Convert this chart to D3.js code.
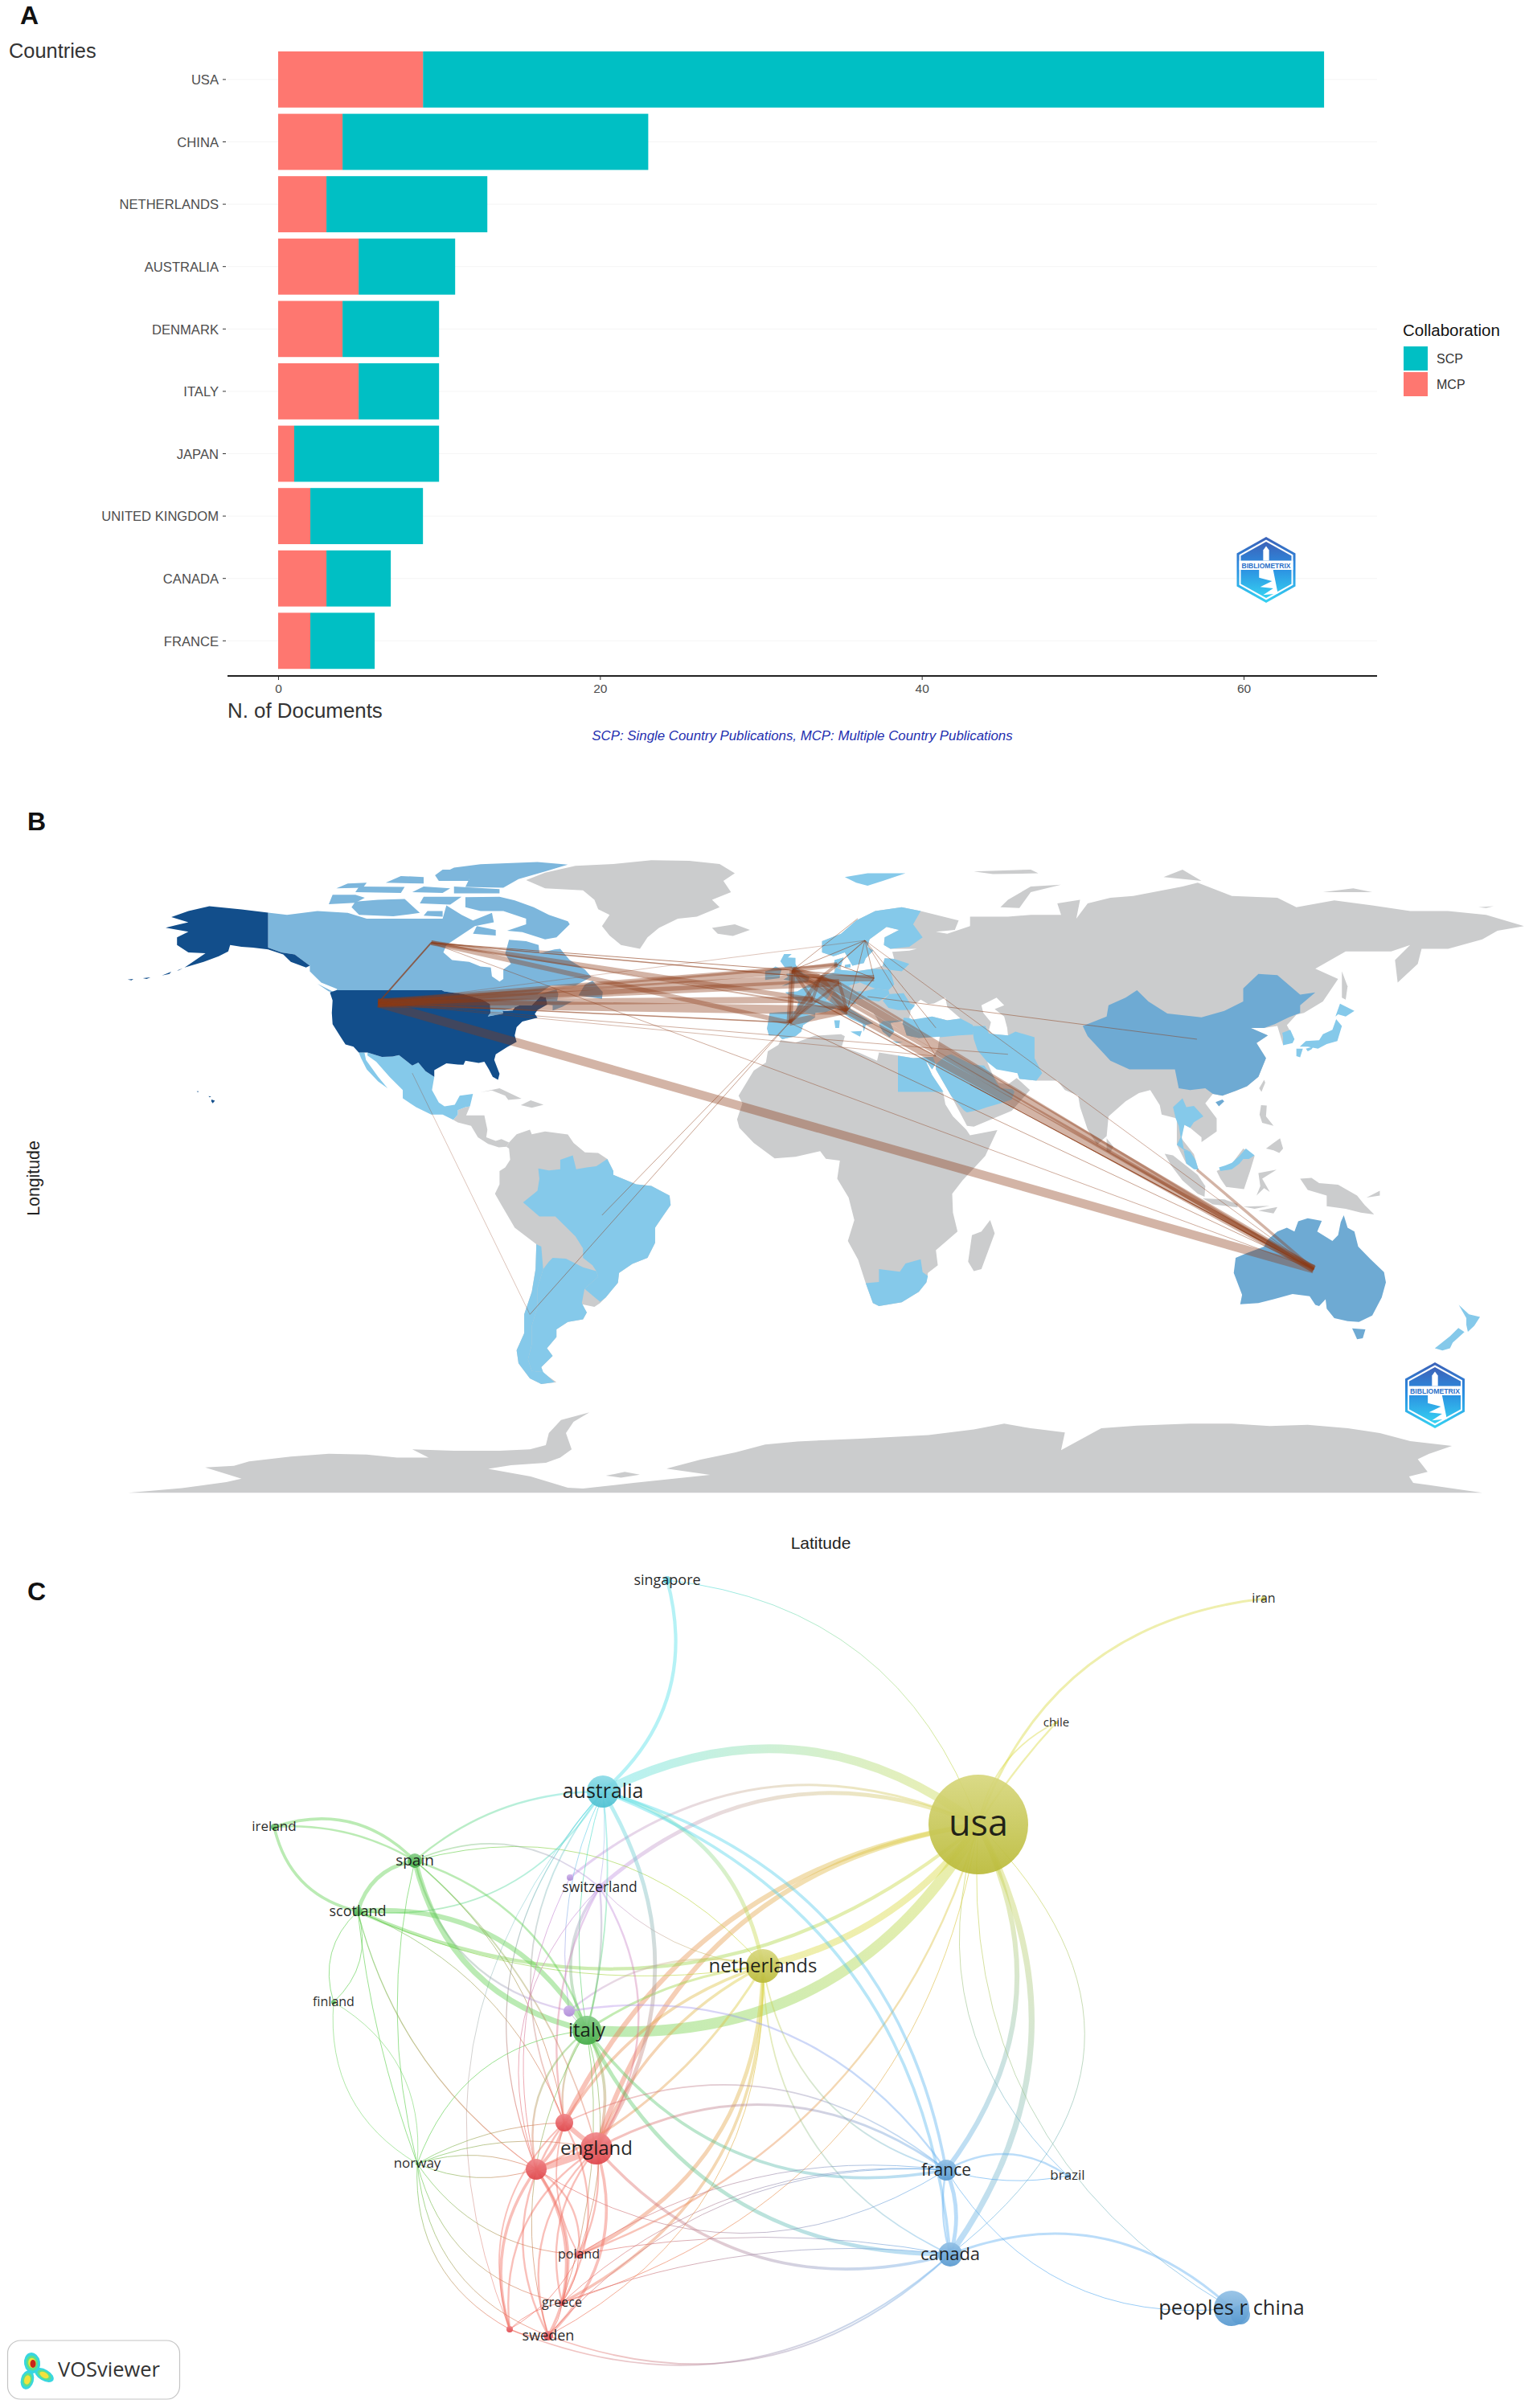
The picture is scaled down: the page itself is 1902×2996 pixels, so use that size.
<!DOCTYPE html>
<html><head><meta charset="utf-8">
<script src="https://cdn.jsdelivr.net/npm/d3@7"></script>
<style>html,body{margin:0;background:#fff}svg{display:block}</style>
</head><body><svg id="c" width="1902" height="2996"></svg>
<script>
// ---------- Panel A data ----------
const countries=["USA","CHINA","NETHERLANDS","AUSTRALIA","DENMARK","ITALY","JAPAN","UNITED KINGDOM","CANADA","FRANCE"];
const mcp=[9,4,3,5,4,5,1,2,3,2];
const scp=[56,19,10,6,6,5,9,7,4,4];
const xTicks=[0,20,40,60];
// ---------- Panel B outlines [lon,lat] ----------
const usaMain=[[-124.7,48.4],[-123,49],[-95.2,49],[-94.6,48.7],[-92,48.3],[-89.6,48],[-84.5,46.5],[-82.5,45.3],[-82.4,43],[-83.1,42],[-79,42.8],[-79.2,43.5],[-76.5,43.6],[-76,44.4],[-74.7,45],[-71.5,45],[-70.3,46.2],[-69.2,47.4],[-67.8,47.1],[-67.4,45.2],[-70,43.7],[-70.7,42.7],[-70,41.7],[-74,40.7],[-75.5,39.2],[-76,37],[-75.5,35.3],[-78,33.9],[-81,32],[-81.4,30.5],[-80,26.8],[-80.4,25.2],[-81.8,26],[-82.8,28],[-84,30],[-85.5,29.7],[-89,30.3],[-89.5,29.2],[-91,29.3],[-94,29.6],[-97.2,27.8],[-97.2,26],[-99.5,27.5],[-101.4,29.8],[-103,29],[-106.5,31.8],[-108.2,31.4],[-111,31.3],[-114.8,32.5],[-117.1,32.5],[-118.5,34],[-120.6,34.6],[-122,36.8],[-124,40],[-124.2,43],[-124,46.3]];
const alaska=[[-141,69.6],[-148,70.4],[-156.5,71.3],[-162,70],[-166.5,68.4],[-162,67],[-165,66.3],[-168,65.6],[-162,64.5],[-165,63],[-165,61],[-162,59],[-157.5,58.8],[-163,55],[-158,56.5],[-154,58],[-151.5,59.3],[-151,61],[-148,60.5],[-145,60.3],[-141,59.8],[-137,58.5],[-135,56.5],[-131,55],[-130,55.5],[-134,58.5],[-137.5,59],[-141,60.3]];
const aleutian1=[[-178,51.8],[-176.5,52],[-177,51.6]];
const aleutian2=[[-174,52.2],[-172,52.4],[-173,52]];
const aleutian3=[[-169,52.9],[-166.5,53.9],[-167,53.3]];
const aleutian4=[[-165,54.2],[-163.5,54.8],[-164.5,54.3]];
const hawaii=[[-155.9,20],[-155,19.7],[-155.6,19],[-156,19.6]];
const maui=[[-156.7,20.9],[-156,20.8],[-156.4,20.6]];
const kauai=[[-159.8,22.2],[-159.3,22.2],[-159.5,21.9]];
const canadaMain=[[-141,69.6],[-136,69],[-128,70],[-120,69.5],[-115,68],[-108,68],[-100,68],[-95,68],[-94,71.5],[-90,69],[-87,67.5],[-82,69.5],[-81.5,67],[-86.5,66],[-94,61],[-94.8,59],[-92.5,57],[-88,56.5],[-85,55.3],[-82.3,55],[-82,52.7],[-80,51.3],[-79,52],[-79,54.5],[-77,56],[-78.5,58.7],[-77.5,62.4],[-73,62],[-69.7,61],[-69.5,58.8],[-65.5,59.8],[-64,60],[-61.5,57],[-57.5,54.5],[-55.8,52.5],[-60,50.2],[-66.5,50.2],[-70,47.8],[-65,49.2],[-64.5,48],[-64.8,46.2],[-61,46],[-60,46.5],[-63.5,44.6],[-66,43.6],[-66,45],[-67.4,45.2],[-67.8,47.1],[-69.2,47.4],[-70.3,46.2],[-71.5,45],[-74.7,45],[-76,44.4],[-79.2,43.5],[-79,42.8],[-83.1,42],[-82.4,43],[-82.5,45.3],[-84.5,46.5],[-89.6,48],[-92,48.3],[-94.6,48.7],[-95.2,49],[-123,49],[-122.8,49.3],[-127,51],[-130,54],[-130,55.5],[-134,58.5],[-137.5,59],[-141,60.3]];
const baffin=[[-61.5,66.5],[-65,63],[-68,62.5],[-74,64.4],[-78,64.8],[-73,66.5],[-73,68],[-79,70],[-85,70],[-89,71],[-89,73.7],[-80,73.8],[-76,72.8],[-71,71],[-67,69],[-62,67.3]];
const victoria=[[-117,69],[-108,68.6],[-101,69.5],[-105,73.2],[-112,73],[-118,72.5],[-119,71]];
const banks=[[-125,71.8],[-118,72.2],[-115.5,73.5],[-118,74.3],[-124,74.3]];
const ellesmere=[[-89,76.4],[-79,76.2],[-75,78.5],[-68,80.5],[-62,82.3],[-70,83],[-85,82.4],[-92,81.5],[-95,80],[-88,78.5]];
const devon=[[-92,74.7],[-80,74.7],[-80,75.8],[-92,76.5]];
const axelHeiberg=[[-96,78],[-88,78],[-88,81],[-95,81],[-97,79.5]];
const melville=[[-118,75],[-106,74.8],[-105,76.4],[-117,76.5]];
const bathurst=[[-103,75],[-95,74.8],[-93,76],[-100,76.5]];
const princePatrick=[[-123,76],[-116,76.2],[-115,77.5],[-120,77.3]];
const ellefRingnes=[[-110,77.5],[-100,77.3],[-100,79],[-106,79.3]];
const somerset=[[-101,72],[-93,71.7],[-90,73.8],[-100,73.8]];
const kingWilliam=[[-100,68.8],[-95,68.5],[-95,70],[-99,70]];
const southampton=[[-87,64],[-81,63.5],[-81,65],[-86,66]];
const newfoundland=[[-59.2,47.6],[-53,46.7],[-52.8,48.5],[-55.5,51.5],[-57.5,50.5]];
const vancouverIsl=[[-128,50.7],[-123.5,48.4],[-125,48.7]];
const mexico=[[-114.8,32.5],[-111,31.3],[-108.2,31.4],[-106.5,31.8],[-103,29],[-101.4,29.8],[-99.5,27.5],[-97.2,26],[-97.8,22.5],[-96,19.2],[-94.5,18.2],[-91.8,18.6],[-90.5,21],[-87,21.5],[-87.8,18.2],[-89,18],[-91,17.2],[-91,16],[-92.2,14.6],[-95,16],[-98,16],[-102,18],[-105.5,20.3],[-105.5,22.5],[-109,26],[-112.5,30],[-114.8,31.7]];
const baja=[[-117.1,32.5],[-115.6,32.5],[-115.2,30.5],[-112,26],[-109.5,23],[-112,24.8],[-115,28],[-116.5,31]];
const centralAmerica=[[-92.2,14.6],[-91,16],[-91,17.2],[-89,18],[-87.8,18.2],[-88.8,15.8],[-84,15.8],[-83.2,12],[-83.5,10],[-81,9],[-79.5,9.5],[-77.5,8.6],[-78.2,7.5],[-80.2,7.3],[-83,8.2],[-85.7,10],[-87.5,13],[-91,13.9]];
const cuba=[[-85,21.9],[-80,23],[-74.2,20.2],[-77.7,19.9],[-78.5,21],[-82,22.4]];
const hispaniola=[[-74.4,18.5],[-71.8,19.8],[-68.4,18.6],[-71.5,17.8]];
const southAmerica=[[-77.5,8.6],[-75.5,10.8],[-72,12],[-71.5,10.8],[-68,11.5],[-62,10.7],[-60.5,8.5],[-57.5,6],[-54,5.8],[-51.6,4.2],[-50,1],[-50,0],[-44,-2.5],[-40,-2.9],[-35.2,-5.5],[-34.9,-8],[-37,-11],[-39,-14],[-39,-18],[-41,-22],[-45,-23.6],[-48.5,-26],[-48.8,-28.6],[-52,-32.5],[-53.5,-34],[-55,-35],[-58.3,-34.3],[-57,-36.5],[-58,-38.3],[-62,-39],[-65,-41],[-65,-43],[-67.5,-46],[-66,-48],[-69,-51],[-68.5,-52.5],[-65,-55],[-69,-55.5],[-72,-54],[-75,-50],[-75.5,-46.5],[-73.5,-42],[-73.5,-37],[-71.5,-31],[-70.5,-25],[-70.3,-18.4],[-76,-14],[-79.5,-8],[-81.2,-5],[-80,-2.5],[-80,1],[-78.5,2],[-77.2,4],[-77.5,7],[-78.2,7.5]];
const brazil=[[-51.6,4.2],[-50,1],[-50,0],[-44,-2.5],[-40,-2.9],[-35.2,-5.5],[-34.9,-8],[-37,-11],[-39,-14],[-39,-18],[-41,-22],[-45,-23.6],[-48.5,-26],[-48.8,-28.6],[-52,-32.5],[-53.5,-33.7],[-57.6,-30.2],[-54,-27],[-54.5,-25.5],[-55.5,-24],[-58,-22],[-58,-19.5],[-60,-16.3],[-65.3,-11],[-69.5,-11],[-73.8,-7.3],[-70,-4.2],[-69.5,-1],[-69.8,1.7],[-67,1.2],[-64,1.5],[-64,4],[-60.7,5.2],[-59.8,1.5],[-57,2],[-54.5,2.3]];
const argentina=[[-66,-22],[-62.5,-22.2],[-58,-24.5],[-54.5,-25.5],[-54,-27],[-57.6,-30.2],[-58.3,-34],[-57,-36.5],[-58,-38.3],[-62,-39],[-65,-41],[-65,-43],[-67.5,-46],[-66,-48],[-69,-51],[-68.5,-52.3],[-71.5,-52],[-72.5,-49],[-71.5,-45],[-71.5,-40],[-70,-35],[-70,-30],[-68.5,-25],[-67,-23]];
const chile=[[-70.3,-18.4],[-69,-19],[-68.5,-25],[-70,-30],[-70,-35],[-71.5,-40],[-71.5,-45],[-72.5,-49],[-71.5,-52],[-68.5,-52.3],[-65.5,-55],[-69,-55.5],[-72,-54],[-75,-50],[-75.5,-46.5],[-73.5,-42],[-73.5,-37],[-71.5,-31],[-70.5,-25]];
const greenland=[[-73,78.2],[-68,80.2],[-60,82],[-50,82.5],[-40,83.5],[-30,83.3],[-22,82.5],[-18,80],[-21,78],[-19,75],[-24,73],[-22,71],[-28,68.5],[-33,68],[-38,65.5],[-41,63],[-43,60],[-48,61],[-51,63.5],[-53,66],[-51,69],[-54,70.5],[-55,73],[-58,75.5],[-68,76]];
const iceland=[[-24,65.5],[-18,66.5],[-14,65],[-18.5,63.4],[-22.5,64]];
const svalbard=[[11,79],[17,80],[27,80],[21,78],[17,76.7],[14,77.5]];
const novayaZemlya=[[52,71],[57,70.8],[60,75],[68,77],[60,76.5],[54,73]];
const franzJosef=[[45,80.5],[60,81],[62,80],[50,79.8]];
const severnaya=[[95,79],[105,78],[100,81]];
const newSiberian=[[137,75],[150,75],[145,76]];
const wrangel=[[178,71],[182,71.3],[180,70.8]];
const eurasia=[[5,59],[5,62],[10,64],[14,67.5],[19,70],[26,71],[31,70],[41,67.5],[40,65],[35,64.5],[38,64],[44,66],[44,68.5],[54,68.5],[60,69],[68,69],[67,72],[73,73],[72,68],[75,72],[81,73.5],[87,74],[100,76.5],[104,77.5],[113,74],[125,73.5],[130,71],[140,72.8],[150,71.5],[160,70],[170,70],[180,69],[190,66],[183,64.8],[179,62.5],[170,60],[163,60],[162,56],[156.7,51],[156,57],[160,61],[155,59.3],[143,59.3],[135,54.7],[141,52],[137,46],[132,43],[130,42.5],[127.5,39.7],[129.5,36],[126.5,34.5],[125,39.5],[121.5,39],[118,39],[122.5,37],[119.5,35],[122,31],[120,26],[117,23.5],[114,22.3],[110.5,21],[108,21.5],[106,19],[109,15],[109,11.5],[105,8.7],[105,10],[102,12.5],[100.5,13.3],[99.5,10],[103,5.5],[104.2,1.4],[101,3],[98.5,8],[98.5,15],[94.5,16],[94,18.5],[91.5,22.5],[88.5,21.7],[85,19.5],[80.5,15.5],[80,10.3],[77.5,8],[75,12],[73,18],[72.5,21],[69,22.5],[67,25],[61.5,25],[57,25.5],[56.5,27],[51,28.5],[48.5,30],[50.2,26],[51.5,24.5],[54,24],[56.3,25.7],[59.8,22.5],[55,17],[45,12.8],[43.2,13],[39,21],[35,28],[35,29.5],[34,28],[32.6,30],[32.3,31.2],[34.2,31.3],[35.5,33.5],[36,36.7],[30.5,36.3],[27.3,37],[26.5,39.5],[29,41],[34,42],[38,41],[41.5,41.5],[38,44.5],[37.5,47],[34.5,45.5],[33,45.3],[31,46.5],[28.5,44.5],[28,41.5],[26,40.8],[23,40.3],[24,38],[22.8,36.5],[21,38],[19.5,41.5],[18.5,43],[14,45.3],[12.3,45.3],[12.5,44],[16,41.8],[18.5,40.2],[16.5,39.8],[16,38],[15.7,40],[12.5,41.5],[10.5,43],[8.8,44.3],[6,43.2],[3.2,43],[3.2,41.8],[0,39.7],[-0.5,38],[-2,36.8],[-5.5,36],[-6.5,37],[-9,37],[-9.5,38.8],[-8.8,43],[-2,43.4],[-1.2,46],[-4.7,48.4],[-1.5,48.7],[1.5,50.5],[3.5,51.4],[4.8,53],[8.2,53.7],[8.3,57],[10.7,57.7],[10,55.5],[10,54.4],[14,54],[18.5,54.7],[21,55.5],[21.5,57.5],[24,57.3],[23.5,59.2],[28,59.5],[30,60],[23,60],[21.3,61],[21.5,63],[25.3,65],[22,65.8],[17.5,62.5],[17,60.5],[18.5,59.5],[16.5,57.5],[16,56.2],[13,55.5],[11,59],[8,58]];
const caspianSea=[[47,45],[51,47],[53,45],[50.5,44],[53,42],[53.8,39],[54,37],[50,37.3],[49,38.5],[49.5,40.5],[47.5,43]];
const sakhalin=[[142,54],[143.5,50],[143,46.5],[142,47],[142,52]];
const honshu=[[130.9,34],[132.5,35.5],[136,35.7],[137,37.3],[139.5,38.5],[140.5,41.3],[142,39.5],[140.8,35.5],[138,34.7],[135.7,33.5],[133,34]];
const kyushu=[[130,33.5],[131.7,33.5],[131,31.2],[130,31.5]];
const shikoku=[[132.5,33.5],[134.5,34],[134,33.3],[133,32.8]];
const hokkaido=[[140.3,42],[141.5,45.4],[145.3,43.5],[143,42],[141,42.6]];
const southKorea=[[126.3,37.7],[128.4,38.5],[129.5,36],[129,35],[126.5,34.4],[126.5,36.5]];
const taiwan=[[120.2,23],[121.5,25.2],[121.8,24.5],[120.8,22]];
const hainan=[[108.7,19.3],[110.5,20],[111,19.5],[109.6,18.2]];
const luzon=[[120.3,16],[120.7,18.5],[122.2,18.4],[122,15.5],[124,13],[121,13.8]];
const mindanao=[[122,7],[124,8.5],[125.7,9.7],[126.5,7],[125.5,5.8],[124,6.5]];
const sriLanka=[[80,9.7],[81.8,7.5],[81,6],[80,6.2]];
const sumatra=[[95.3,5.6],[97.5,5.2],[104,0],[106,-3],[105.8,-5.8],[104,-5],[100,-1.5],[97,2.5]];
const java=[[105.3,-6.2],[111,-6.5],[114.5,-7.7],[114.5,-8.6],[108,-7.8]];
const borneo=[[109,1],[113,3],[116,7],[119,5],[117.8,1],[116.2,-3.8],[111.5,-3.2],[110,-1]];
const eastMalaysia=[[110,1],[113,1.5],[115,3],[116,4.2],[117.5,4.2],[119,5.2],[116.7,7],[115,5],[113,3.2],[111.3,2.5],[109.6,2]];
const sulawesi=[[119.5,-5.5],[120.5,-3],[120,0.5],[124.8,1.4],[121,-1],[123,-4.5],[121.5,-3.5]];
const newGuinea=[[131,-1],[134,-0.8],[136,-2.2],[141,-2.6],[146,-5.5],[148,-8],[150.5,-10.5],[147,-10],[143,-9],[138,-8.3],[138,-5.5],[133,-4]];
const newBritain=[[148.5,-6],[152,-4.2],[152,-5.5]];
const timor=[[120,-9.5],[125,-8.5],[124,-10.2]];
const sunda=[[116,-8.4],[123,-8.2],[119,-9]];
const madagascar=[[49.3,-12],[50.5,-15.5],[47,-25],[45,-25.5],[43.5,-23],[44.5,-16],[47,-15]];
const australia=[[142.5,-10.7],[143.5,-14],[145.3,-15],[146.3,-19],[149.5,-22.3],[153.1,-25.8],[153.6,-28.5],[152.5,-32.5],[150,-37.3],[146.5,-39],[143.5,-38.8],[140,-38],[138,-35.5],[137.7,-33],[136,-34.8],[135,-34.5],[133.5,-32.2],[129,-31.6],[124,-33],[120,-34],[115.2,-34.3],[115.7,-31.8],[113.5,-26],[114,-22],[117,-20.7],[121.5,-19],[122.3,-17.3],[125,-15],[127.5,-14],[129.5,-15],[130.5,-12.3],[133,-11.5],[136.7,-12.2],[135.5,-15],[139.5,-17.5],[141,-16],[141.7,-12.5]];
const tasmania=[[144.7,-40.7],[148.2,-41],[147.5,-43.3],[146,-43.6],[145.3,-42]];
const nzNorth=[[172.8,-34.5],[175.5,-37],[178.4,-37.7],[176.9,-40],[175.2,-41.6],[174.8,-39.8],[174.8,-38]];
const nzSouth=[[172.7,-40.6],[174.3,-41.7],[171.2,-44.5],[170.5,-46],[168.5,-46.6],[166.5,-46],[170.5,-42.8]];
const africa=[[-5.9,35.8],[-2,35.1],[3,36.9],[10,37.3],[11,36.8],[10.2,34],[15,32.3],[19.5,30.3],[20,32.5],[25,31.7],[29,31],[32.3,31.2],[32.6,30],[32.5,29.8],[34,26.5],[37,21.5],[37.5,18.7],[39.5,15.5],[43,12],[44,10.5],[51.2,11.9],[48,5],[42,-1.5],[39.3,-5],[39.5,-10],[40.7,-15],[35,-20],[35.5,-24],[32.9,-26],[32.5,-28.5],[30.5,-31],[26,-33.8],[20,-34.8],[18.4,-34],[16.5,-28.7],[14.5,-22.5],[11.8,-17.5],[13.5,-12],[12,-6],[9,-1],[9.7,3.8],[6,4.3],[4.5,6.3],[-2,4.8],[-7.5,4.4],[-13,8.5],[-16.8,12.5],[-17.4,14.7],[-16,19],[-17,21],[-13,27.7],[-9.8,29.8],[-9.3,32.8],[-6.5,34.5]];
const egypt=[[25,31.6],[29,31],[32.3,31.2],[34.2,31.3],[34.9,29.5],[34,28],[32.6,30],[32.5,29.8],[34,26.5],[37,22],[25,22]];
const saudiArabia=[[35,29.4],[37.5,31.5],[39,32],[44.7,29.2],[47.7,29],[48.5,28],[50,26.5],[51,24.5],[52,23],[55.2,22.7],[55.7,22],[55,20],[52,19],[48.5,18],[46.5,17.3],[43.2,16.6],[42.5,17],[39,21],[35,28]];
const iran=[[44.5,39.5],[48,39.5],[49,37.5],[54,37],[56,38],[61,36.5],[61,31],[63,27],[61.5,25],[57,25.5],[56.5,27],[51,28],[48.5,30],[46,33],[45,36]];
const turkey=[[26.2,40],[26.5,41.7],[28,41.6],[29,41.2],[34,42],[38,41],[41.5,41.5],[44.7,39.8],[44.8,37.2],[41,37],[36.2,36.5],[36,36.7],[30.5,36.3],[27.3,37],[26.5,39.5]];
const china=[[73.7,39.5],[80,42],[80.5,45],[85,47],[88,49],[91,46],[96,42.8],[105,41.8],[111,43.5],[116,46],[116,49.5],[120,53.3],[125,53],[131,47.8],[135,48.4],[131,45],[131,43],[128,41.8],[124.3,40],[121.5,39],[118,39],[122.5,37],[119.5,35],[122,31],[120,26],[117,23.5],[114,22.3],[110.5,21],[108,21.5],[106,23],[102,22.5],[99,23],[98,28],[92,28],[86,28],[81,30.3],[78.5,33],[75,36.8]];
const thailand=[[98.5,8],[99.5,10],[99,13],[98.2,15],[97.5,18],[100,20.3],[101,18],[103,18.3],[105.5,15.5],[103,14],[102,12.5],[100.5,13.3],[99.8,10],[100.3,7],[102,6.2],[100.5,6.5]];
const westMalaysia=[[100.3,6.5],[102,6.2],[103.4,4],[104.2,1.4],[103,1.5],[101,3]];
const southAfrica=[[16.5,-28.7],[18.4,-34],[20,-34.8],[26,-33.8],[30.5,-31],[32.5,-28.5],[32.9,-26.8],[31.5,-25.8],[31,-22.4],[27,-23.5],[25.5,-25.7],[20,-25],[20,-28.4]];
const iberia=[[-9,37],[-6.5,37],[-5.5,36],[-2,36.8],[-0.5,38],[0,39.7],[3.2,41.8],[1.5,42.5],[-2,43.4],[-8.8,43],[-9.5,38.8]];
const france=[[-1.8,43.4],[3.2,42.5],[3.2,43],[6,43.2],[7.5,43.8],[7,46],[6,46.3],[8,49],[4,50],[1.5,50.5],[-1.5,48.7],[-4.7,48.4],[-1.2,46]];
const benelux=[[2.5,51],[3.5,51.4],[4.8,53],[7,53.4],[6,51],[6,49.6],[4,50]];
const germany=[[7,53.4],[8.2,53.7],[8.7,55],[10,54.4],[14,54],[15,51],[12,50.2],[13.8,48.7],[10,47.4],[7.6,47.6],[8,49],[6,49.6],[6,51]];
const denmark=[[8.1,55.5],[8.3,57],[10.7,57.7],[10,55.5],[9.5,54.9]];
const zealand=[[11,55.7],[12.5,56],[12.5,55],[11,55]];
const scandinavia=[[5,59],[5,62],[10,64],[14,67.5],[19,70],[26,71],[31,70],[29,66.5],[31.5,63],[28,60.5],[23,60],[21.3,61],[21.5,63],[25.3,65],[22,65.8],[17.5,62.5],[17,60.5],[18.5,59.5],[16.5,57.5],[16,56.2],[13,55.5],[11,59],[8,58]];
const poland=[[14,54],[18.5,54.7],[23,54.4],[24,50.5],[22.5,49],[19,49.4],[15,51]];
const baltics=[[21,55.5],[21.5,57.5],[24,57.3],[28,56],[26,54],[23,54.4]];
const hungary=[[22.5,49],[19,49.4],[16,48.7],[16.5,46.5],[20,46],[22.8,48]];
const austriaSwiss=[[7,46],[7.6,47.6],[10,47.4],[13.8,48.7],[16,48.7],[16.5,46.8],[13.5,46.5],[10,46.5]];
const italy=[[7,46],[10,46.5],[13.5,46.5],[14,45.5],[12.3,45.3],[12.5,44],[16,41.8],[18.5,40.2],[16.5,39.8],[16,38],[15.7,40],[12.5,41.5],[10.5,43],[8.8,44.3],[7.5,43.8]];
const sicily=[[12.5,38],[15.5,38.2],[15,36.7]];
const sardinia=[[8.2,41],[9.7,41],[9.5,39],[8.5,39]];
const crete=[[23.5,35.5],[26.3,35.2],[24.7,35]];
const greece=[[20,39.7],[21,40.8],[26,41],[26,40.8],[23,40.3],[24,38],[22.8,36.5],[21,38]];
const romania=[[21,46.2],[22.8,48],[26.5,48.2],[28.2,45.5],[29.5,45],[28.5,43.8],[25,43.7],[22.5,44.3]];
const britain=[[-5.7,50],[-3,50.7],[1.3,51.2],[1.7,52.7],[0,53.5],[-1.5,55],[-2,56],[-2,57.6],[-4,57.7],[-3,58.6],[-5,58.6],[-6,56.7],[-4.8,55],[-3,54.9],[-3,53.5],[-4.5,53.3],[-4,52.5],[-5.2,51.8],[-3,51.4]];
const ireland=[[-10,51.7],[-6.2,52.2],[-6,53.5],[-5.6,54.6],[-7.3,55.3],[-8.5,54.5],[-10,54]];
const antarctica=[[-177.8,-84.3],[-163.7,-83.1],[-152,-81.5],[-148,-80.6],[-157.6,-77.6],[-150,-77.2],[-146,-76],[-135,-74.7],[-125,-74],[-115,-74.2],[-107,-75],[-98.7,-75],[-103,-72.8],[-92,-73.2],[-80,-73.2],[-72,-72.8],[-67.8,-71.7],[-67,-68.5],[-63.8,-65],[-56.3,-63],[-60.5,-65.5],[-62.5,-68.5],[-61,-72.8],[-64,-75],[-67.8,-76.4],[-77,-77],[-83,-78],[-71.8,-80],[-62,-83],[-58,-83.2],[-44.7,-81.7],[-24.5,-79.6],[-36,-77.9],[-27,-75.5],[-17.8,-73.6],[-10,-71.5],[-1.5,-70.7],[15,-70],[33,-69],[45,-67.5],[53,-66],[60,-67.2],[69,-68.3],[68,-73],[78.6,-67.2],[88,-66.5],[102,-66],[113,-66],[123,-66.6],[133,-66.3],[143.6,-67.2],[152,-68.5],[160,-70.6],[171,-71.9],[165,-74],[162,-75.4],[164.6,-78.8],[159.7,-80],[160.8,-81.7],[179,-84.3]];
const berkner=[[-52,-79.8],[-47,-78.8],[-43,-79.5],[-48,-80.3]];
// map fills by group
const grayLand=[eurasia,africa,southAmerica,centralAmerica,greenland,iceland,novayaZemlya,franzJosef,severnaya,newSiberian,wrangel,sakhalin,taiwan,luzon,mindanao,sriLanka,sumatra,java,borneo,sulawesi,newGuinea,newBritain,timor,sunda,madagascar,cuba,hispaniola,antarctica,berkner];
const lightLand=[mexico,baja,brazil,argentina,chile,svalbard,honshu,kyushu,shikoku,hokkaido,southKorea,eastMalaysia,thailand,westMalaysia,southAfrica,egypt,saudiArabia,iran,turkey,nzNorth,nzSouth,iberia,france,benelux,germany,denmark,zealand,scandinavia,poland,baltics,hungary,austriaSwiss,italy,sicily,sardinia,crete,greece,romania,britain,ireland];
const midLand=[australia,tasmania,china,hainan];
const canadaLand=[canadaMain,baffin,victoria,banks,ellesmere,devon,axelHeiberg,melville,bathurst,princePatrick,ellefRingnes,somerset,kingWilliam,southampton,newfoundland,vancouverIsl];
const darkLand=[usaMain,alaska,aleutian1,aleutian2,aleutian3,aleutian4,hawaii,maui,kauai];
// collaboration centres
const geoNodes={USA:[-112,45.6],CAN:[-98,61.6],AUS:[134.6,-25],GBR:[-2.8,54.3],NLD:[4.4,52.2],DEU:[9.5,51],DNK:[9,55.8],POL:[18.7,52.2],SWE:[16.3,62.2],NOR:[14.4,68],ITA:[11.6,43.6],ESP:[-3.6,40.4],FRA:[2.5,46.5],HUN:[17,47.3],CHN:[103.8,36],IRN:[54,32],BRA:[-53,-10.7],CHL:[-72,-37],ARG:[-66,-40],MEX:[-103,27],SGP:[103.8,1.4],ISR:[35,31.5],TUR:[35,39],SAU:[44,24]};
const geoLinks=[["USA","AUS",11],["USA","GBR",10],["USA","NLD",11],["USA","DEU",9],["USA","FRA",8],["USA","ITA",11],["USA","DNK",3],["USA","ESP",1.5],["USA","CAN",2],["USA","CAN",1.5],["USA","IRN",.7],["USA","SWE",.5],["USA","ISR",.6],
["CAN","ESP",6],["CAN","FRA",6],["CAN","GBR",1],["CAN","NLD",1.5],["CAN","ITA",2],["CAN","AUS",.7],
["AUS","GBR",5],["AUS","NLD",9],["AUS","ITA",9],["AUS","DEU",3],["AUS","FRA",1.2],["AUS","ESP",.8],["AUS","SWE",.7],["AUS","SGP",3.5],["AUS","SAU",1],
["GBR","NLD",9],["GBR","DNK",6],["GBR","ITA",7],["GBR","ESP",7],["GBR","FRA",4],["GBR","DEU",4],["GBR","POL",2],["GBR","SWE",.9],["GBR","NOR",.8],["NLD","POL",8],["NLD","ITA",8],["NLD","ESP",5],["NLD","FRA",4],["NLD","DNK",4],["NLD","DEU",3],["ITA","ESP",8],["ITA","FRA",5],["ITA","DEU",4],["ESP","FRA",4],["ESP","DEU",3],["DNK","SWE",1.2],["DNK","POL",1],["SWE","ITA",.8],["SWE","POL",.8],["POL","ITA",1.2],["SWE","TUR",.8],["SWE","ISR",.7],["HUN","CHN",.8],["ESP","BRA",.8],["ESP","CHL",.8],["MEX","CHL",.5],["GBR","ESP",2],["ITA","ISR",.8]];
// ---------- Panel C data ----------
const netNodes=[["usa",1217,2270,62,"yellow",45,"usa"],["netherlands",949,2446,21,"yellow",24,"netherlands"],["australia",750,2229,20,"cyan",25,"australia"],["italy",730,2526,18,"green",24,"italy"],["england",742,2673,20,"red",24,"england"],["r1",702,2641,11,"red",0,""],["r2",667,2699,13,"red",0,""],["spain",516,2315,9,"green",19,"spain"],["scotland",445,2378,6,"green",18,"scotland"],["ireland",341,2273,4,"green",17,"ireland"],["finland",415,2491,3,"green",16,"finland"],["norway",519,2692,2,"green",17,"norway"],["switzerland",746,2348,5,"purple",17.5,"switzerland"],["p2",709,2336,4,"purple",0,""],["p3",708,2502,7,"purple",0,""],["poland",720,2805,5,"red",16,"poland"],["greece",699,2865,4,"red",16,"greece"],["sweden",682,2906,6,"red",18,"sweden"],["r3",634,2898,4,"red",0,""],["france",1177,2700,13,"blue",21,"france"],["canada",1182,2805,15,"blue",22,"canada"],["brazil",1328,2707,3,"blue",17,"brazil"],["china2",1543,2880,12,"blue",0,""],["china",1532,2872,22,"blue",25.5,"peoples r china"],["chile",1314,2143,2,"yellow",15,"chile"],["iran",1572,1989,3,"yellow",16,"iran"],["singapore",830,1966,5,"cyan",18,"singapore"]];
const clusterColors={yellow:"#c2c23a",cyan:"#4fc8da",green:"#45b148",red:"#e8474c",purple:"#b48ddf",blue:"#5a9fd8"};
const linkColors={yellow:"#d8d83c",cyan:"#4fdfe8",green:"#5ccf4c",red:"#f0685a",purple:"#c090e8",blue:"#5cadf0"};
// [from,to,weight,side]  side>0 bends towards the left when walking from -> to
const netLinks=[["australia","usa",9,1],["italy","usa",11,-1],["netherlands","usa",7,-.6],["england","usa",5,1],["r1","usa",5,.85],["switzerland","usa",4,1],["p2","usa",2.5,1],["usa","france",5,1],["usa","canada",6,1],["usa","canada",1,1.8],["usa","china",1,-1],["usa","brazil",1,-1],["usa","iran",2.5,1],["usa","chile",2,.15],["usa","chile",1.5,.8],["singapore","usa",1,1],["australia","singapore",3.5,-1],["scotland","usa",3.5,-1],["spain","netherlands",1,1],["poland","usa",2,-.8],["greece","usa",1,-1],
["england","netherlands",3,.6],["r1","netherlands",3,.6],["r2","netherlands",2.5,-.5],["poland","netherlands",4,-1],["greece","netherlands",3,-1],["italy","netherlands",2.5,.4],["sweden","netherlands",1,-1],["netherlands","france",1.5,-1],["netherlands","canada",1.5,-1],["switzerland","netherlands",1,-.6],["p3","netherlands",2,.8],["scotland","netherlands",1,-.5],["australia","netherlands",4,1],
["australia","france",3,1],["australia","canada",3,1],["australia","england",4,1],["australia","r1",1.5,-1],["australia","r2",1.2,-1],["australia","italy",1.5,.3],["australia","italy",1,-.4],["australia","p3",1,-.5],["australia","switzerland",.8,.2],["australia","r3",.8,-1],["spain","australia",2,.6],["scotland","australia",1.5,-1],
["spain","italy",6,-1],["scotland","italy",5,1],["spain","italy",2,.8],["spain","england",1.5,.5],["spain","r1",1,.6],["scotland","spain",4,1],["ireland","spain",3,1],["ireland","spain",2,.5],["ireland","scotland",3,-1],["spain","p3",2,-1],["spain","switzerland",1.5,1],["spain","norway",1,-.4],["scotland","finland",1,-1],["scotland","finland",1,1],["scotland","norway",1,-.2],["scotland","r2",1.2,-.6],["scotland","r1",1,.7],["finland","norway",.8,1],["finland","norway",.8,-1],
["norway","r2",1,.6],["norway","r2",1,-.6],["norway","england",1,.5],["norway","r1",1,.4],["norway","italy",1,1],["norway","r3",1,-1],["norway","sweden",1,-1],["norway","greece",1,-1],["norway","poland",1,-.8],
["switzerland","italy",3,-1],["switzerland","italy",2,.3],["switzerland","england",2,1],["switzerland","r1",2,-.6],["switzerland","r2",1,-1],["p2","r2",1,-.6],["p3","france",2,1],["italy","p3",1,.3],
["italy","england",3,.7],["italy","r1",2,-.7],["italy","r2",2,-1],["italy","france",3,-1],["italy","canada",4,-1],["italy","greece",1,.4],["italy","poland",1,.5],["italy","sweden",1,-.7],
["england","r1",5,.1],["england","r2",7,.1],["r1","r2",3,.5],["england","poland",2,.5],["england","greece",2,-.8],["england","sweden",3,1],["england","sweden",2,-1],["england","r3",2,-1],["r2","r3",3,-.8],["r2","sweden",2.5,1],["r2","greece",3,.7],["r2","poland",2,1],["r1","sweden",2,-1],["r1","greece",2,.9],["r1","r3",1.5,-1],["r1","poland",1.5,-.7],["poland","greece",1,.5],["greece","sweden",1,.5],["r3","sweden",1,-.5],["r3","greece",1,.5],["r3","poland",1,-.5],
["england","france",2.5,1],["england","canada",3,-1],["r1","france",1.5,1],["r2","france",1,-1],["poland","france",1,.6],["poland","canada",1,.3],["greece","france",1,.7],["greece","canada",1,.4],["sweden","france",1,.8],["sweden","canada",1.5,-1],["r3","canada",1.5,-1],["france","canada",4,.6],["france","canada",2,-.4],["france","brazil",2,1],["france","brazil",1,-.4],["canada","china",2.5,1],["france","china",1,-1]];
const bendFactor=0.31;

// ---------- helpers ----------
const svg=d3.select("#c");
const defs=svg.append("defs");
const SANS="'Liberation Sans',Arial,sans-serif";
function txt(x,y,s,size,opt={}){return svg.append("text").attr("x",x).attr("y",y).attr("font-family",opt.family||SANS).attr("font-size",size).attr("fill",opt.fill||"#222").attr("text-anchor",opt.anchor||"start").attr("font-weight",opt.weight||null).attr("font-style",opt.style||null).text(s);}
["A","B","C"].forEach((l,i)=>txt(i?34:25,[30,1033,1991][i],l,32,{weight:"bold",fill:"#111"}));

// ---------- Panel A ----------
const xA=d3.scaleLinear().domain([0,60]).range([346,1547]);
const yA=d3.scaleBand().domain(countries).range([60.1,836.1]).paddingInner(.1).paddingOuter(.05);
const gA=svg.append("g");
gA.selectAll("line.grid").data(countries).join("line").attr("x1",283).attr("x2",1713).attr("y1",d=>yA(d)+yA.bandwidth()/2).attr("y2",d=>yA(d)+yA.bandwidth()/2).attr("stroke","#f5f5f5");
gA.selectAll("rect.scp").data(countries).join("rect").attr("x",(d,i)=>xA(mcp[i])).attr("y",d=>yA(d)).attr("height",yA.bandwidth()).attr("width",(d,i)=>xA(scp[i])-xA(0)).attr("fill","#00BFC4");
gA.selectAll("rect.mcp").data(countries).join("rect").attr("class","mcp").attr("x",xA(0)).attr("y",d=>yA(d)).attr("height",yA.bandwidth()).attr("width",(d,i)=>xA(mcp[i])-xA(0)).attr("fill","#FE7770");
const axY=gA.append("g").attr("transform","translate(281,0)").call(d3.axisLeft(yA).tickSize(4).tickPadding(5));
axY.select(".domain").remove();axY.selectAll("text").attr("font-family",SANS).attr("font-size",16.6).attr("fill","#4d4d4d").attr("y",1);axY.selectAll("line").attr("stroke","#333");
const axX=gA.append("g").attr("transform","translate(0,841)").call(d3.axisBottom(xA).tickValues(xTicks).tickSize(5).tickPadding(5));
axX.select(".domain").remove();
gA.append("line").attr("x1",283).attr("x2",1713).attr("y1",841).attr("y2",841).attr("stroke","#222").attr("stroke-width",2);
axX.selectAll("text").attr("font-family",SANS).attr("font-size",15.5).attr("fill","#4d4d4d");axX.selectAll("line").attr("stroke","#333");
txt(11,72,"Countries",25.4,{fill:"#333"});
txt(283,893,"N. of Documents",25.9,{fill:"#333"});
txt(998,921,"SCP: Single Country Publications, MCP: Multiple Country Publications",16.85,{anchor:"middle",style:"italic",fill:"#1f2fb0"});
txt(1745,418,"Collaboration",20.5,{fill:"#111"});
[["SCP","#00BFC4",431],["MCP","#FE7770",463]].forEach(([n,c,y])=>{svg.append("rect").attr("x",1746).attr("y",y).attr("width",30).attr("height",30).attr("fill",c);txt(1787,y+21,n,16,{fill:"#333"});});

// bibliometrix badge
function badge(cx,cy,w,h,id){
 const g=svg.append("g").attr("transform",`translate(${cx},${cy})`);
 const lg=defs.append("linearGradient").attr("id",id).attr("x1",0).attr("y1",0).attr("x2",0).attr("y2",1);
 lg.append("stop").attr("offset",0).attr("stop-color","#3c62b8");lg.append("stop").attr("offset",.45).attr("stop-color","#2b8ce0");lg.append("stop").attr("offset",1).attr("stop-color","#36d2f2");
 const hex=(a,b)=>[[0,-b],[a,-b/2],[a,b/2],[0,b],[-a,b/2],[-a,-b/2]].map(p=>p.join(",")).join(" ");
 g.append("polygon").attr("points",hex(w/2,h/2)).attr("fill",`url(#${id})`);
 g.append("polygon").attr("points",hex(w/2-3,h/2-3.5)).attr("fill","#fff");
 g.append("polygon").attr("points",hex(w/2-5,h/2-6)).attr("fill",`url(#${id})`);
 g.append("rect").attr("x",-w/2+3).attr("y",-h*.14).attr("width",w-6).attr("height",h*.14).attr("fill","#fff");
 g.append("text").attr("y",-h*.025).attr("text-anchor","middle").attr("font-family",SANS).attr("font-weight","bold").attr("font-size",w*.125).attr("fill","#2a6fc8").attr("textLength",w-12).attr("lengthAdjust","spacingAndGlyphs").text("BIBLIOMETRIX");
 g.append("polygon").attr("points",[[-w*.05,-h*.3],[0,-h*.36],[w*.05,-h*.3],[w*.05,-h*.14],[-w*.05,-h*.14]].map(p=>p.join(",")).join(" ")).attr("fill","#fff");
 g.append("polygon").attr("points",[[-w*.12,0],[w*.12,0],[w*.2,h*.36],[-w*.05,h*.38],[w*.12,h*.28],[-w*.1,h*.26],[w*.1,h*.17],[-w*.12,h*.12]].map(p=>p.join(",")).join(" ")).attr("fill","#fff");
}
badge(1575,709,73,82,"bm1");

// ---------- Panel B ----------
const lonS=d3.scaleLinear().domain([-180,180]).range([999-849.6,999+849.6]);
const latS=d3.scaleLinear().domain([-90,90]).range([1461.8+422.1,1461.8-422.1]);
const geoPath=d3.geoPath(d3.geoTransform({point(x,y){this.stream.point(lonS(x),latS(y));}}));
const poly=r=>({type:"Polygon",coordinates:[[...r,r[0]]]});
const gB=svg.append("g");
function land(list,fill){gB.append("g").selectAll("path").data(list).join("path").attr("d",r=>geoPath(poly(r))).attr("fill",fill);}
land(grayLand,"#cbcccd");
land([caspianSea],"#ffffff");
land(lightLand,"#85c9ea");
land(midLand,"#6eaad3");
land(canadaLand,"#7cb6dc");
land(darkLand,"#124e8b");
gB.append("g").selectAll("line").data(geoLinks).join("line")
 .attr("x1",d=>lonS(geoNodes[d[0]][0])).attr("y1",d=>latS(geoNodes[d[0]][1]))
 .attr("x2",d=>lonS(geoNodes[d[1]][0])).attr("y2",d=>latS(geoNodes[d[1]][1]))
 .attr("stroke","#8c3a16").attr("stroke-width",d=>d[2]).attr("stroke-opacity",d=>d[2]<1.6?.6:.38);
badge(1785,1736,74,82,"bm2");
txt(1021,1927,"Latitude",21,{anchor:"middle",fill:"#222"});
svg.append("text").attr("transform","translate(49,1466) rotate(-90)").attr("text-anchor","middle").attr("font-family",SANS).attr("font-size",21.3).attr("fill","#222").text("Longitude");

// ---------- Panel C ----------
const nodeById=new Map(netNodes.map(d=>[d[0],d]));
const gC=svg.append("g");
netLinks.forEach((l,i)=>{
 const a=nodeById.get(l[0]),b=nodeById.get(l[1]);
 const lg=defs.append("linearGradient").attr("id","nl"+i).attr("gradientUnits","userSpaceOnUse").attr("x1",a[1]).attr("y1",a[2]).attr("x2",b[1]).attr("y2",b[2]);
 lg.append("stop").attr("offset",0).attr("stop-color",linkColors[a[4]]);
 lg.append("stop").attr("offset",1).attr("stop-color",linkColors[b[4]]);
 const dx=b[1]-a[1],dy=b[2]-a[2];
 const p=d3.path();p.moveTo(a[1],a[2]);
 p.quadraticCurveTo((a[1]+b[1])/2+dy*bendFactor*l[3],(a[2]+b[2])/2-dx*bendFactor*l[3],b[1],b[2]);
 gC.append("path").attr("d",p.toString()).attr("fill","none").attr("stroke",`url(#nl${i})`).attr("stroke-width",l[2]<=1.2?l[2]:l[2]*1.2).attr("stroke-opacity",l[2]<=1.2?.62:.42);
});
netNodes.forEach((n,i)=>{
 const c=clusterColors[n[4]];
 const lg=defs.append("linearGradient").attr("id","nn"+i).attr("x1",0).attr("y1",0).attr("x2",0).attr("y2",1);
 lg.append("stop").attr("offset",0).attr("stop-color",d3.interpolateRgb(c,"#fff")(.34));lg.append("stop").attr("offset",1).attr("stop-color",d3.color(c).darker(.12));
 gC.append("circle").attr("cx",n[1]).attr("cy",n[2]).attr("r",n[3]).attr("fill",`url(#nn${i})`).attr("fill-opacity",.92);
});
netNodes.filter(n=>n[6]).forEach(n=>{gC.append("text").attr("x",n[1]).attr("y",n[2]).attr("dy",".32em").attr("text-anchor","middle").attr("font-family","'Open Sans',sans-serif").attr("font-size",n[5]).attr("fill","#111").attr("fill-opacity",.92).text(n[6]);});

// VOSviewer mark
svg.append("rect").attr("x",9.5).attr("y",2912).attr("width",214).attr("height",73).attr("rx",16).attr("fill","#fff").attr("stroke","#c4c4c4").attr("stroke-width",1.2);
const blobs=[[40,2940,10,13,-10],[34,2961,8,12,15],[55,2955,13,7,30]];
[["#38d6e0",1],["#5fe08a",.72],["#f2e23c",.48]].forEach(([f,k])=>blobs.forEach(b=>svg.append("ellipse").attr("transform",`translate(${b[0]},${b[1]}) rotate(${b[4]})`).attr("rx",b[2]*k).attr("ry",b[3]*k).attr("fill",f)));
svg.append("ellipse").attr("cx",41).attr("cy",2941).attr("rx",3.5).attr("ry",5).attr("fill","#c8261b");
txt(72,2957,"VOSviewer",25.5,{family:"'Open Sans',sans-serif",fill:"#333"});
</script></body></html>
